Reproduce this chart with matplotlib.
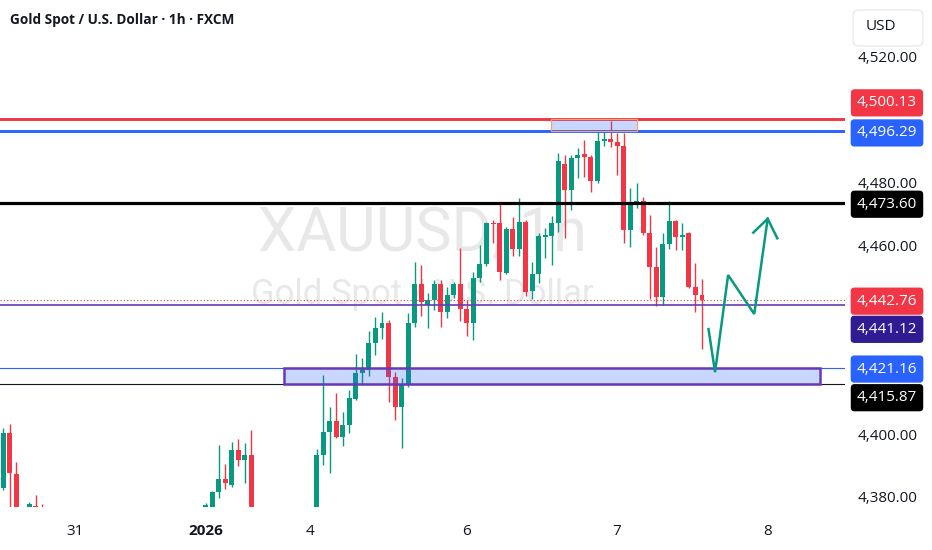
import numpy as np
import matplotlib.pyplot as plt
from matplotlib.patches import Rectangle, FancyBboxPatch
from matplotlib.transforms import blended_transform_factory, offset_copy

plt.rcParams['font.family'] = ['Open Sans', 'DejaVu Sans']

# XAUUSD 1h bars, one entry per bar; None = bar sits below the visible price range
opens = ([4382.9, 4400.3, 4387.2, None, 4372.0, 4377.0, 4376.0] + [None] * 24 +
         [4374.0, 4374.0, 4381.7, 4385.7, 4383.8, 4395.0, 4391.8, 4393.3] + [None] * 9 +
         [4370.0, 4393.4, 4400.7, 4404.2, 4399.1, 4402.9, 4411.2, 4419.5, 4420.4, 4429.0,
          4433.8, 4435.4, 4418.2, 4408.6, 4415.6, 4435.4, 4447.8, 4441.1, 4442.7, 4447.8,
          4438.9, 4444.3, 4447.8, 4439.8, 4435.4, 4449.7, 4454.1, 4467.2, 4467.2, 4451.3,
          4465.3, 4458.9, 4467.5, 4445.6, 4451.0, 4462.7, 4463.0, 4467.2, 4486.0, 4477.7,
          4487.9, 4489.1, 4488.2, 4480.6, 4493.3, 4493.9, 4493.0, 4491.7, 4465.0, 4473.9,
          4474.2, 4464.0, 4453.2, 4443.6, 4460.5, 4467.8, 4462.7, 4464.0, 4446.8, 4444.3])
highs = ([4402.0, 4403.1, 4391.0, None, 4378.3, 4380.7, 4377.7] + [None] * 24 +
         [4378.0, 4382.0, 4396.6, 4390.4, 4397.6, 4398.5, 4397.1, 4401.3] + [None] * 9 +
         [4395.3, 4418.8, 4408.6, 4413.1, 4407.0, 4414.1, 4425.5, 4424.2, 4432.8, 4437.3,
          4438.9, 4436.3, 4419.8, 4417.9, 4438.6, 4454.8, 4453.8, 4444.9, 4449.1, 4449.1,
          4446.8, 4448.4, 4459.2, 4442.7, 4451.6, 4460.2, 4467.5, 4468.1, 4473.2, 4465.9,
          4469.1, 4475.1, 4468.1, 4454.8, 4464.0, 4465.6, 4469.4, 4489.5, 4488.8, 4488.8,
          4491.1, 4493.6, 4488.8, 4496.5, 4496.8, 4499.6, 4495.8, 4495.8, 4478.3, 4479.9,
          4475.5, 4469.7, 4459.6, 4464.0, 4474.2, 4468.1, 4467.2, 4464.3, 4454.5, 4449.4])
lows = ([4382.2, 4374.0, 4370.0, None, 4370.0, 4372.0, 4371.0] + [None] * 24 +
        [4372.0, 4372.0, 4379.8, 4382.6, 4383.3, 4389.7, 4384.4, 4368.0] + [None] * 9 +
        [4366.0, 4390.2, 4387.6, 4398.9, 4396.2, 4400.4, 4410.9, 4415.6, 4418.5, 4425.2,
         4430.3, 4410.2, 4404.5, 4395.6, 4415.0, 4434.1, 4437.6, 4433.8, 4439.5, 4434.1,
         4436.9, 4443.3, 4436.0, 4431.2, 4429.9, 4448.4, 4453.5, 4460.8, 4449.1, 4451.0,
         4456.7, 4456.7, 4444.0, 4443.0, 4448.1, 4456.1, 4453.8, 4464.3, 4462.4, 4471.3,
         4481.5, 4481.8, 4477.1, 4479.9, 4491.7, 4491.4, 4482.5, 4460.8, 4459.6, 4471.9,
         4463.4, 4443.0, 4440.8, 4441.1, 4458.9, 4458.6, 4458.6, 4446.5, 4438.9, 4427.1])
closes = ([4400.4, 4387.5, 4373.0, None, 4377.8, 4374.0, 4373.0] + [None] * 24 +
          [4377.5, 4381.7, 4385.7, 4384.4, 4395.0, 4391.8, 4393.3, 4372.0] + [None] * 9 +
          [4393.4, 4400.7, 4404.2, 4399.1, 4402.9, 4411.5, 4419.5, 4421.1, 4429.0, 4433.8,
           4435.4, 4418.2, 4408.6, 4415.6, 4435.4, 4447.8, 4442.1, 4442.7, 4447.8, 4438.9,
           4444.3, 4447.8, 4439.8, 4435.4, 4449.7, 4454.1, 4467.2, 4466.9, 4451.6, 4465.3,
           4458.9, 4467.5, 4445.2, 4451.0, 4463.0, 4463.4, 4467.2, 4486.9, 4477.7, 4487.9,
           4488.8, 4488.2, 4480.6, 4493.3, 4493.9, 4493.0, 4491.7, 4465.0, 4473.9, 4474.2,
           4464.0, 4453.2, 4443.6, 4460.5, 4467.8, 4462.7, 4463.4, 4446.8, 4444.3, 4442.76])

# time axis: bar index where each day label sits
day_ticks = [11, 31, 47, 71, 94, 117]
day_labels = ['31', '2026', '4', '6', '7', '8']
price_ticks = [4380, 4400, 4460, 4480, 4520]

# horizontal levels and their price-scale tags
levels = [4500.13, 4496.29, 4473.60, 4442.76, 4441.12, 4421.16, 4415.87]

# demand zone (bottom) and the top supply box: (from bar, to bar, low, high)
demand_zone = (43.0, 125.1, 4415.87, 4421.16)
top_zone = (83.9, 97.1, 4496.29, 4500.13)

# projected path
path_x = [108.0, 109.0, 111.0, 115.0, 117.06]
path_y = [4433.4, 4419.7, 4450.6, 4438.2, 4468.5]
head_x = [114.86, 117.06, 118.53]
head_y = [4464.1, 4468.5, 4462.3]

GREEN = '#089981'
RED = '#f23645'
BLUE = '#2962ff'
PURPLE = '#673ab7'

fig = plt.figure(figsize=(9.32, 5.5), dpi=100)
ax = fig.add_axes([0, 43 / 550, 845 / 932, 507 / 550])
ax.set_xlim(-0.5, 128.9)
ax.set_ylim(4376.8, 4538.1)
for s in ax.spines.values():
    s.set_visible(False)

# watermark
ax.text(0.5, 0.54, 'XAUUSD, 1h', transform=ax.transAxes, ha='center', va='center',
        fontsize=44, family='Roboto', color='#e8e8e8', zorder=0)
ax.text(0.5, 0.42, 'Gold Spot / U.S. Dollar', transform=ax.transAxes, ha='center',
        va='center', fontsize=25, family='Roboto', color='#e8e8e8', zorder=0)

# candles
o = np.array(opens, dtype=float)
h = np.array(highs, dtype=float)
l = np.array(lows, dtype=float)
c = np.array(closes, dtype=float)
idx = np.arange(len(o))
ok = ~np.isnan(o)
cols = np.where(c >= o, GREEN, RED)
ax.vlines(idx[ok], l[ok], h[ok], colors=cols[ok], lw=1, zorder=3)
ax.bar(idx[ok], np.maximum(np.abs(c - o), 0.35)[ok], bottom=np.minimum(o, c)[ok],
       width=0.76, color=cols[ok], zorder=4)

# levels drawn on the chart
ax.axhline(levels[0], color=RED, lw=2.1, zorder=5)
ax.axhline(levels[1], color=BLUE, lw=2.1, zorder=5)
ax.axhline(levels[2], color='black', lw=2.3, zorder=5)
ax.axhline(levels[3], color=RED, lw=0.8, ls=(0, (1, 2)), zorder=5)
ax.axhline(levels[4], color=PURPLE, lw=1.2, zorder=5)
ax.axhline(levels[5], color=BLUE, lw=0.8, zorder=5)
ax.axhline(levels[6], color='#131722', lw=0.8, zorder=5)

x0, x1, y0, y1 = demand_zone
ax.add_patch(Rectangle((x0, y0), x1 - x0, y1 - y0, fc=BLUE, alpha=0.25, ec='none', zorder=6))
ax.add_patch(Rectangle((x0, y0), x1 - x0, y1 - y0, fc='none', ec=PURPLE, lw=1.8, zorder=6))
x0, x1, y0, y1 = top_zone
ax.add_patch(Rectangle((x0, y0), x1 - x0, y1 - y0, fc=BLUE, alpha=0.25, ec='none', zorder=6))
ax.add_patch(Rectangle((x0, y0), x1 - x0, y1 - y0, fc='none', ec='#f7a26b', lw=0.9, zorder=6))

ax.plot(path_x, path_y, color=GREEN, lw=1.8, zorder=7, solid_joinstyle='miter')
ax.plot(head_x, head_y, color=GREEN, lw=1.8, zorder=7, solid_joinstyle='miter')

# price scale
ax.yaxis.tick_right()
ax.set_yticks(price_ticks)
ax.set_yticklabels([f'{p:,.2f}' for p in price_ticks])
ax.tick_params(axis='y', length=0, pad=9, labelsize=11, labelcolor='#131722')

tag_colors = [RED, BLUE, 'black', RED, '#311b92', BLUE, 'black']
tag_shift = [18, 0, 0, 0, -23, 0, -12]  # pixels, keeps tags from overlapping
trans = blended_transform_factory(ax.transAxes, ax.transData)
for p, col, sh in zip(levels, tag_colors, tag_shift):
    t = offset_copy(trans, fig=fig, y=sh - 1.5, units='dots')
    ax.text(1 + 42 / 845, p, f'{p:,.2f}', transform=t, ha='center', va='center',
            fontsize=11, color='white', clip_on=False, zorder=10,
            bbox=dict(boxstyle='round,pad=0.4,rounding_size=0.25', fc=col, ec='none'))

# time axis
ax.set_xticks(day_ticks)
ax.set_xticklabels(day_labels)
ax.tick_params(axis='x', length=0, pad=12, labelsize=11, labelcolor='#131722')
ax.get_xticklabels()[1].set_fontweight('bold')

# header
fig.text(10 / 932, 1 - 20 / 550, 'Gold Spot / U.S. Dollar · 1h · FXCM', ha='left',
         va='center', fontsize=9.8, fontweight='bold', color='#131722')
fig.add_artist(FancyBboxPatch((853 / 932, 1 - 46 / 550), 70 / 932, 36 / 550,
                              boxstyle='round,pad=0,rounding_size=0.008',
                              transform=fig.transFigure, fc='white', ec='#e0e3eb', lw=0.8))
fig.text(881 / 932, 1 - 27 / 550, 'USD', ha='center', va='center', fontsize=11,
         color='#131722')

fig.savefig('out.png', dpi=100, facecolor='white')
